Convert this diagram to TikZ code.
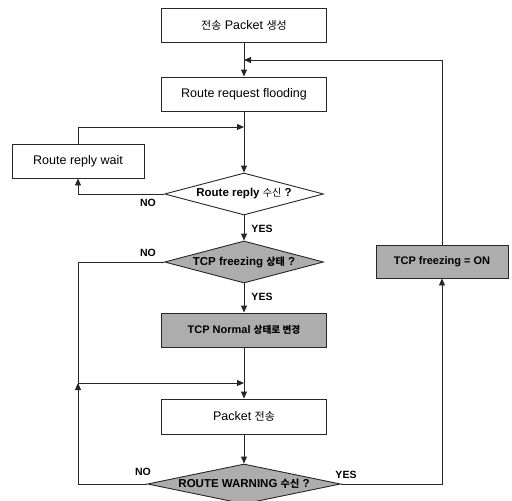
\documentclass[tikz,border=0pt]{standalone}
\usepackage{fontspec}
\setmainfont{Liberation Sans}
\newfontfamily\kr[Scale=0.88]{Noto Sans CJK KR}
\usetikzlibrary{shapes.geometric,arrows.meta}
\begin{document}
\begin{tikzpicture}[x=1pt,y=-1pt,
  box/.style={draw=black!85,line width=0.9pt,rectangle,minimum width=165pt,minimum height=34pt,inner sep=0pt,font=\fontsize{12.5}{14}\selectfont},
  gbox/.style={box,fill=black!32,font=\bfseries\fontsize{11}{13}\selectfont},
  dia/.style={draw=black!85,line width=0.9pt,diamond,inner sep=0pt,shape aspect=4,minimum width=159pt,minimum height=42pt,font=\bfseries\fontsize{11.5}{13}\selectfont},
  gdia/.style={dia,fill=black!32},
  arr/.style={draw=black!85,line width=0.9pt,-{Triangle[length=7pt,width=6pt]}},
  ln/.style={draw=black!85,line width=0.9pt},
  lab/.style={font=\bfseries\fontsize{10.5}{12}\selectfont,inner sep=0pt}]
\useasboundingbox (0,0) rectangle (512,501);
\node[box] (b1) at (244,25.5) {{\kr 전송} Packet {\kr 생성}};
\node[box] (b2) at (244,94) {Route request flooding};
\node[box,minimum width=132pt] (wait) at (78,161) {Route reply wait};
\node[dia,fill=white] (d1) at (244,194) {Route reply {\kr\mdseries 수신} ?};
\node[gdia] (d2) at (244,262) {TCP freezing {\kr 상태} ?};
\node[gbox] (b3) at (244,330) {TCP Normal {\kr 상태로 변경}};
\node[box,minimum height=35pt] (b4) at (244,416.5) {Packet {\kr 전송}};
\node[gdia,minimum width=193pt,minimum height=40pt,shape aspect=5] (d3) at (244,484) {ROUTE WARNING {\kr 수신} ?};
\node[gbox,minimum width=132pt,minimum height=33pt] (on) at (442,261.5) {TCP freezing = ON};
\coordinate (m1) at (244,60);
\coordinate (m2) at (244,127);
\coordinate (m3) at (244,383);
\coordinate (c) at (78,383);
\draw[arr] (b1) -- (b2);
\draw[arr] (b2) -- (d1);
\draw[arr] (wait.north) |- (m2);
\draw[arr] (d1.west) -| (wait.south);
\draw[arr] (d1) -- (d2);
\draw[ln] (d2.west) -| (c);
\draw[arr] (c) -- (m3);
\draw[arr] (d2) -- (b3);
\draw[arr] (b3) -- (b4);
\draw[arr] (b4) -- (d3);
\draw[arr] (d3.west) -| (c);
\draw[arr] (d3.east) -| (on.south);
\draw[arr] (on.north) |- (m1);
\node[lab] (n1) at (148,203) {NO};
\node[lab] (y1) at (262,229) {YES};
\node[lab] (n2) at (148,253) {NO};
\node[lab] (y2) at (262,297) {YES};
\node[lab] (n3) at (143,472) {NO};
\node[lab] (y3) at (346,475) {YES};
\end{tikzpicture}
\end{document}
